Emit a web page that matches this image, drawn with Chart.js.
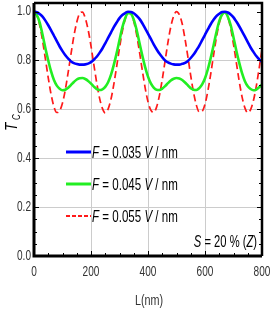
<!DOCTYPE html>
<html>
<head>
<meta charset="utf-8">
<script src="https://cdn.jsdelivr.net/npm/chart.js@4.4.1/dist/chart.umd.min.js"></script>
<style>
  html, body { margin: 0; padding: 0; background: #fff; }
</style>
</head>
<body>
<canvas id="chart" width="271" height="314"></canvas>
<script>
// L (nm)
const lengths = [0,10,20,30,40,50,60,70,80,90,100,110,120,130,140,150,160,170,180,190,200,
  210,220,230,240,250,260,270,280,290,300,310,320,330,340,350,360,370,380,390,400,
  410,420,430,440,450,460,470,480,490,500,510,520,530,540,550,560,570,580,590,600,
  610,620,630,640,650,660,670,680,690,700,710,720,730,740,750,760,770,780,790,800];
// F = 0.035 V/nm
const tBlue = [1.0,.997,.990,.979,.963,.944,.923,.901,.879,.857,.838,.821,.807,.796,.789,.785,.783,.783,.784,.787,.793,
  .803,.815,.831,.849,.870,.892,.914,.936,.955,.973,.986,.994,.999,.998,.993,.983,.970,.952,.931,.910,
  .888,.866,.846,.828,.813,.800,.792,.787,.784,.783,.783,.786,.790,.798,.810,.824,.842,.861,.883,.905,
  .927,.948,.966,.981,.991,.998,.999,.996,.988,.976,.959,.940,.919,.897,.875,.853,.835,.818,.805,.795];
// F = 0.045 V/nm
const tGreen = [1.0,.985,.955,.905,.850,.800,.755,.720,.697,.684,.678,.680,.688,.700,.712,.722,.727,.728,.724,.716,.705,
  .693,.683,.679,.682,.692,.711,.741,.782,.830,.883,.935,.973,.994,.991,.967,.925,.872,.820,.773,.734,
  .706,.689,.680,.679,.685,.695,.707,.718,.725,.728,.726,.720,.710,.698,.686,.680,.679,.687,.702,.727,
  .764,.810,.861,.915,.961,.988,.997,.979,.945,.894,.840,.791,.748,.715,.694,.683,.678,.681,.690,.702];
// F = 0.055 V/nm
const tRed = [1.0,.985,.944,.881,.806,.729,.661,.611,.587,.594,.626,.681,.752,.828,.900,.956,.992,.998,.973,.925,.859,
  .783,.709,.646,.604,.585,.601,.641,.702,.775,.851,.919,.969,.996,.994,.960,.906,.836,.760,.688,.631,
  .597,.587,.609,.656,.722,.798,.874,.938,.981,1.0,.987,.950,.887,.814,.737,.668,.616,.589,.592,.621,
  .675,.744,.821,.894,.952,.988,.997,.977,.931,.866,.791,.715,.651,.606,.586,.599,.636,.695,.768,.844];

const xTicks = [0, 200, 400, 600, 800];
const yTicks = [0, 0.2, 0.4, 0.6, 0.8, 1.0];
const fieldLabels = ["0.035", "0.045", "0.055"];
const lineColors = ["#0000ff", "#22ee22", "#ff1a1a"];

const FAMILY = "'Liberation Sans', Arial, sans-serif";

// draws a row of text pieces squeezed horizontally (the original font is very narrow)
function narrowText(c, pieces, x, y, size, sx, align) {
  c.save();
  let total = 0;
  pieces.forEach(p => {
    c.font = (p.i ? "italic " : "") + size + "px " + FAMILY;
    total += c.measureText(p.t).width * sx;
  });
  let x0 = align === "right" ? x - total : align === "center" ? x - total / 2 : x;
  c.textAlign = "left";
  pieces.forEach(p => {
    c.font = (p.i ? "italic " : "") + size + "px " + FAMILY;
    const w = c.measureText(p.t).width;
    c.save();
    c.translate(x0, y);
    c.scale(sx, 1);
    c.fillText(p.t, 0, 0);
    c.restore();
    x0 += w * sx;
  });
  c.restore();
  return total;
}

function series(vals) {
  return lengths.map((L, i) => ({ x: L, y: vals[i] }));
}

const framePlugin = {
  id: "frame",
  afterDraw(chart) {
    const c = chart.ctx;
    const a = chart.chartArea;
    const xs = chart.scales.x, ys = chart.scales.y;
    c.save();
    c.strokeStyle = "#000";
    // inward ticks
    c.lineWidth = 1;
    for (let v = 0; v <= 800; v += 50) {
      const px = Math.round(xs.getPixelForValue(v)) + 0.5;
      const len = v % 200 === 0 ? 5 : 3;
      c.beginPath();
      c.moveTo(px, a.bottom); c.lineTo(px, a.bottom - len);
      c.moveTo(px, a.top); c.lineTo(px, a.top + len);
      c.stroke();
    }
    for (let k = 0; k <= 20; k++) {
      const py = Math.round(ys.getPixelForValue(k * 0.05)) + 0.5;
      const len = k % 4 === 0 ? 5 : 3;
      c.beginPath();
      c.moveTo(a.left, py); c.lineTo(a.left + len, py);
      c.moveTo(a.right, py); c.lineTo(a.right - len, py);
      c.stroke();
    }
    // frame
    c.lineWidth = 3;
    c.beginPath();
    c.moveTo(a.left, a.top); c.lineTo(a.left, a.bottom); c.lineTo(a.right, a.bottom);
    c.stroke();
    c.lineWidth = 2.5;
    c.beginPath();
    c.moveTo(a.left, a.top); c.lineTo(a.right, a.top); c.lineTo(a.right, a.bottom);
    c.stroke();

    // tick labels
    c.fillStyle = "#333";
    c.textBaseline = "middle";
    yTicks.forEach(v => {
      narrowText(c, [{ t: v.toFixed(1) }], 31, ys.getPixelForValue(v), 14, 0.72, "right");
    });
    c.textBaseline = "alphabetic";
    xTicks.forEach(v => {
      narrowText(c, [{ t: String(v) }], xs.getPixelForValue(v), 276, 14, 0.72, "center");
    });
    narrowText(c, [{ t: "L(nm)" }], 149, 305, 15, 0.72, "center");

    // legend
    c.fillStyle = "#000";
    const lineY = [152, 184, 216];
    fieldLabels.forEach((f, i) => {
      c.strokeStyle = lineColors[i];
      const dashed = i === 2;
      c.lineWidth = dashed ? 2 : 3;
      c.setLineDash(dashed ? [4, 2] : []);
      c.beginPath();
      c.moveTo(66, lineY[i]); c.lineTo(91, lineY[i]);
      c.stroke();
      c.setLineDash([]);
      narrowText(c, [{ t: "F", i: true }, { t: " = " + f + " " }, { t: "V", i: true }, { t: " / nm" }],
        92, lineY[i] + 6, 17, 0.68, "left");
    });

    // S label
    narrowText(c, [{ t: "S", i: true }, { t: " = 20 % (" }, { t: "Z", i: true }, { t: ")" }],
      257, 247, 16, 0.7, "right");

    // y title T_C
    c.translate(17, 131);
    c.rotate(-Math.PI / 2);
    narrowText(c, [{ t: "T", i: true }], 0, 0, 17, 0.8, "left");
    narrowText(c, [{ t: "C", i: true }], 11, 3, 10, 0.8, "left");
    c.restore();
  }
};

new Chart(document.getElementById("chart"), {
  type: "line",
  data: {
    datasets: [
      { data: series(tBlue), borderColor: lineColors[0], borderWidth: 2.6 },
      { data: series(tGreen), borderColor: lineColors[1], borderWidth: 2.6 },
      { data: series(tRed), borderColor: lineColors[2], borderWidth: 1.7, borderDash: [7, 4] }
    ]
  },
  options: {
    responsive: false,
    animation: false,
    devicePixelRatio: 1,
    layout: { padding: { top: 3, right: 9, left: 0, bottom: 0 } },
    elements: {
      point: { radius: 0 },
      line: { tension: 0.4, cubicInterpolationMode: "monotone", fill: false }
    },
    plugins: { legend: { display: false }, tooltip: { enabled: false } },
    scales: {
      x: {
        type: "linear", min: 0, max: 800,
        afterBuildTicks: s => { s.ticks = xTicks.map(v => ({ value: v })); },
        afterFit: s => { s.height = 58; },
        ticks: { display: false },
        grid: {
          drawTicks: false,
          color: ctx => (ctx.tick && ctx.tick.value > 0 && ctx.tick.value < 800) ? "#cccccc" : "rgba(0,0,0,0)"
        },
        border: { display: false }
      },
      y: {
        min: 0, max: 1.035,
        afterBuildTicks: s => { s.ticks = yTicks.map(v => ({ value: v })); },
        afterFit: s => { s.width = 34; },
        ticks: { display: false },
        grid: {
          drawTicks: false,
          color: ctx => (ctx.tick && ctx.tick.value > 0.1 && ctx.tick.value < 0.9) ? "#cccccc" : "rgba(0,0,0,0)"
        },
        border: { display: false }
      }
    }
  },
  plugins: [framePlugin]
});
</script>
</body>
</html>
